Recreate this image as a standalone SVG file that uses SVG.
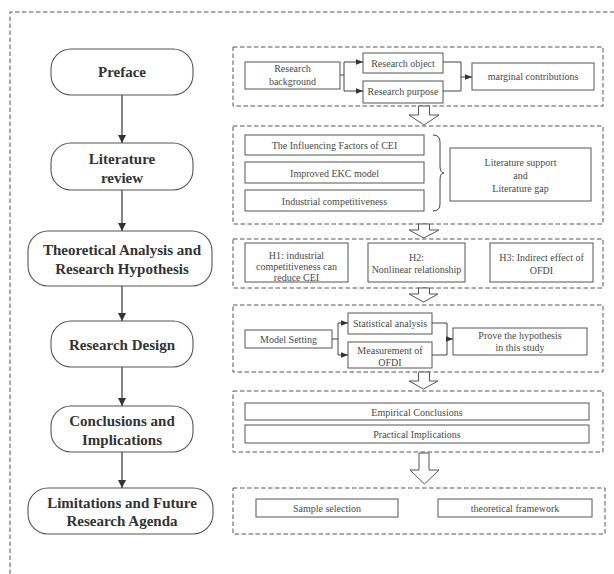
<svg xmlns="http://www.w3.org/2000/svg" width="614" height="574" viewBox="0 0 614 574">
<defs>
<marker id="ah" viewBox="0 0 10 10" refX="10" refY="5" markerWidth="8" markerHeight="8" markerUnits="userSpaceOnUse" orient="auto">
<path d="M0,0 L10,5 L0,10 z" fill="#333"/>
</marker>
<marker id="ahs" viewBox="0 0 10 10" refX="10" refY="5" markerWidth="7" markerHeight="7" markerUnits="userSpaceOnUse" orient="auto">
<path d="M0,1 L10,5 L0,9 z" fill="#333"/>
</marker>
</defs>
<style>
.dash{fill:none;stroke:#555;stroke-width:1;stroke-dasharray:4.5,2.5}
.node rect{fill:#fff;stroke:#555;stroke-width:1.1}
.nt{font-family:"Liberation Serif","Times New Roman",serif;font-weight:bold;font-size:15px;fill:#333;text-anchor:middle}
.box{fill:#fff;stroke:#555;stroke-width:1}
.bt{font-family:"Liberation Serif","Times New Roman",serif;font-size:10px;fill:#4a4a4a;text-anchor:middle}
.ln{fill:none;stroke:#444;stroke-width:1.3}
.sl{fill:none;stroke:#444;stroke-width:1}
.hollow{fill:#fff;stroke:#555;stroke-width:1}
</style>
<rect width="614" height="574" fill="#fff"/>
<path class="dash" d="M10,574 V12 H614"/>

<!-- left flow nodes -->
<g id="n-preface" class="node"><rect x="51" y="49" width="142" height="46" rx="20"/><text class="nt" x="122" y="77">Preface</text></g>
<g id="n-literature" class="node"><rect x="51" y="143" width="142" height="47" rx="20"/><text class="nt" x="122" y="164">Literature</text><text class="nt" x="122" y="183">review</text></g>
<g id="n-theory" class="node"><rect x="28" y="231" width="184" height="55" rx="20"/><text class="nt" x="122" y="255">Theoretical Analysis and</text><text class="nt" x="122" y="274">Research Hypothesis</text></g>
<g id="n-design" class="node"><rect x="51" y="321" width="142" height="46" rx="20"/><text class="nt" x="122" y="350">Research Design</text></g>
<g id="n-conclusions" class="node"><rect x="51" y="406" width="142" height="46" rx="20"/><text class="nt" x="122" y="426">Conclusions and</text><text class="nt" x="122" y="445">Implications</text></g>
<g id="n-limitations" class="node"><rect x="28" y="488" width="185" height="46" rx="20"/><text class="nt" x="122" y="508">Limitations and Future</text><text class="nt" x="122" y="526">Research Agenda</text></g>

<!-- section 1 -->
<g id="s1">
<rect class="dash" x="233" y="47" width="370" height="59"/>
<g id="s1-bg"><rect class="box" x="245" y="62" width="95" height="27"/><text class="bt" x="292.5" y="72">Research</text><text class="bt" x="292.5" y="85">background</text></g>
<g id="s1-obj"><rect class="box" x="363" y="53" width="80" height="20"/><text class="bt" x="403" y="66.5">Research object</text></g>
<g id="s1-pur"><rect class="box" x="363" y="81" width="80" height="22"/><text class="bt" x="403" y="95">Research purpose</text></g>
<g id="s1-mc"><rect class="box" x="472" y="63" width="122" height="27"/><text class="bt" x="533" y="80">marginal contributions</text></g>
</g>

<!-- section 2 -->
<g id="s2">
<rect class="dash" x="233" y="126" width="370" height="98"/>
<g id="s2-a"><rect class="box" x="245" y="135" width="179" height="20"/><text class="bt" x="334.5" y="148.5">The Influencing Factors of CEI</text></g>
<g id="s2-b"><rect class="box" x="245" y="162" width="179" height="21"/><text class="bt" x="334.5" y="176.5">Improved EKC model</text></g>
<g id="s2-c"><rect class="box" x="245" y="190" width="179" height="21"/><text class="bt" x="334.5" y="205">Industrial competitiveness</text></g>
<g id="s2-d"><rect class="box" x="450" y="148" width="141" height="53"/><text class="bt" x="520.5" y="165.5">Literature support</text><text class="bt" x="520.5" y="178.5">and</text><text class="bt" x="520.5" y="191.5">Literature gap</text></g>
</g>

<!-- section 3 -->
<g id="s3">
<rect class="dash" x="233" y="239" width="370" height="49"/>
<g id="s3-h1"><rect class="box" x="245" y="243" width="103" height="39"/><text class="bt" x="296.5" y="258.5">H1: industrial</text><text class="bt" x="296.5" y="269.5">competitiveness can</text><text class="bt" x="296.5" y="280.5">reduce CEI</text></g>
<g id="s3-h2"><rect class="box" x="368" y="243" width="97" height="39"/><text class="bt" x="416.5" y="260.5">H2:</text><text class="bt" x="416.5" y="273">Nonlinear relationship</text></g>
<g id="s3-h3"><rect class="box" x="490" y="243" width="103" height="39"/><text class="bt" x="541.5" y="260.5">H3: Indirect effect of</text><text class="bt" x="541.5" y="273.5">OFDI</text></g>
</g>

<!-- section 4 -->
<g id="s4">
<rect class="dash" x="233" y="305" width="370" height="67"/>
<g id="s4-ms"><rect class="box" x="245" y="330" width="87" height="18"/><text class="bt" x="288.5" y="342.5">Model Setting</text></g>
<g id="s4-sa"><rect class="box" x="348" y="313" width="84" height="21"/><text class="bt" x="390" y="326.5">Statistical analysis</text></g>
<g id="s4-mo"><rect class="box" x="348" y="342" width="84" height="26"/><text class="bt" x="390" y="354">Measurement of</text><text class="bt" x="390" y="366">OFDI</text></g>
<g id="s4-pr"><rect class="box" x="453" y="328" width="134" height="27"/><text class="bt" x="520" y="338.5">Prove the hypothesis</text><text class="bt" x="520" y="350.5">in this study</text></g>
</g>

<!-- section 5 -->
<g id="s5">
<rect class="dash" x="233" y="391" width="370" height="61"/>
<g id="s5-e"><rect class="box" x="245" y="403" width="344" height="17"/><text class="bt" x="417" y="415.5">Empirical Conclusions</text></g>
<g id="s5-p"><rect class="box" x="245" y="425" width="344" height="18"/><text class="bt" x="417" y="437.5">Practical Implications</text></g>
</g>

<!-- section 6 -->
<g id="s6">
<rect class="dash" x="233" y="488" width="372" height="46"/>
<g id="s6-s"><rect class="box" x="256" y="499" width="142" height="18"/><text class="bt" x="327" y="511.5">Sample selection</text></g>
<g id="s6-t"><rect class="box" x="438" y="499" width="154" height="18"/><text class="bt" x="515" y="511.5">theoretical framework</text></g>
</g>

<!-- connectors -->
<g id="connectors">
<line class="ln" x1="122" y1="95" x2="122" y2="143" marker-end="url(#ah)"/>
<line class="ln" x1="122" y1="190" x2="122" y2="231" marker-end="url(#ah)"/>
<line class="ln" x1="122" y1="286" x2="122" y2="321" marker-end="url(#ah)"/>
<line class="ln" x1="122" y1="367" x2="122" y2="406" marker-end="url(#ah)"/>
<line class="ln" x1="122" y1="452" x2="122" y2="488" marker-end="url(#ah)"/>

<path class="sl" d="M340,75 H344"/>
<path class="sl" d="M344,62 V91"/>
<path class="sl" d="M344,62 H363" marker-end="url(#ahs)"/>
<path class="sl" d="M344,91 H363" marker-end="url(#ahs)"/>
<path class="sl" d="M443,62 H461 V91 H443"/>
<path class="sl" d="M461,77 H472" marker-end="url(#ahs)"/>

<path class="sl" d="M433,135 Q440,135 440,142 V166 Q440,173 444,173 Q440,173 440,180 V204 Q440,211 433,211"/>

<path class="sl" d="M332,339 H338"/>
<path class="sl" d="M338,323 V355"/>
<path class="sl" d="M338,323 H348" marker-end="url(#ahs)"/>
<path class="sl" d="M338,355 H348" marker-end="url(#ahs)"/>
<path class="sl" d="M432,323 H447 V355 H432"/>
<path class="sl" d="M447,339 H453" marker-end="url(#ahs)"/>

<path class="hollow" d="M418.5,106 H429.5 V115 H439 L424,125 L409,115 H418.5 Z"/>
<path class="hollow" d="M418.5,224 H429.5 V230 H439 L424,238 L409,230 H418.5 Z"/>
<path class="hollow" d="M418.5,288 H429.5 V294 H438 L423.5,302 L409,294 H418.5 Z"/>
<path class="hollow" d="M418.5,372 H429.5 V381 H438 L423.5,389 L409,381 H418.5 Z"/>
<path class="hollow" d="M419,453 H429 V470 H439 L424.5,484 L410,470 H419 Z"/>
</g>
</svg>
